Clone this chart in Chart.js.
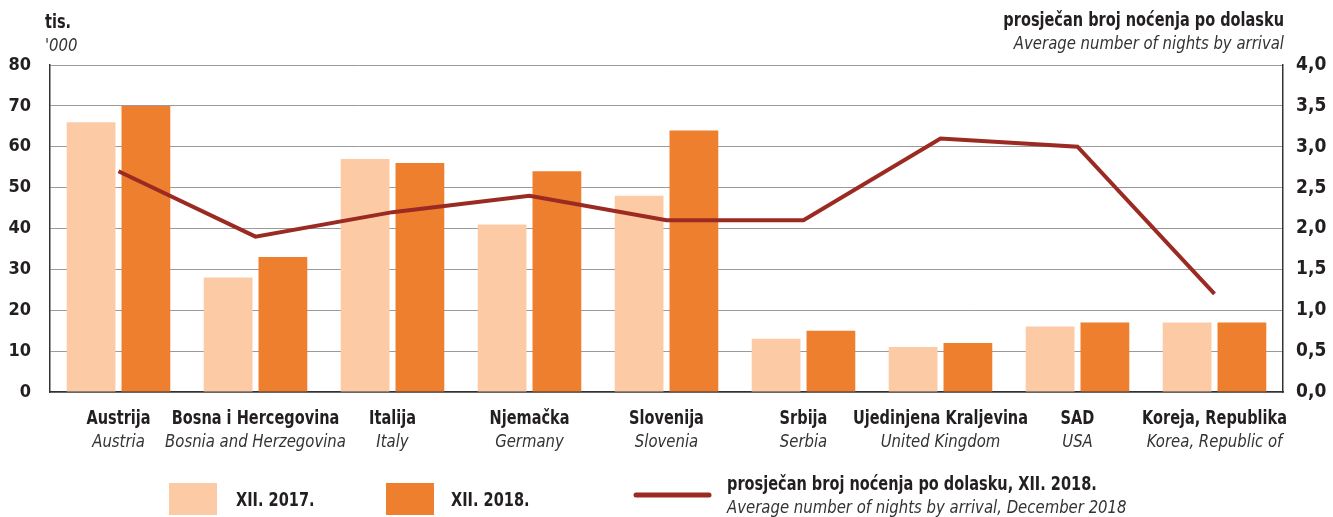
<!DOCTYPE html>
<html>
<head>
<meta charset="utf-8">
<script src="https://cdn.jsdelivr.net/npm/chart.js@4"></script>
<style>
  html, body { margin: 0; padding: 0; background: #fff; }
  #wrap { width: 1333px; height: 517px; position: relative; }
</style>
</head>
<body>
<div id="wrap"><canvas id="myChart" width="1333" height="517"></canvas></div>
<script>
const categoriesHr = ['Austrija', 'Bosna i Hercegovina', 'Italija', 'Njemačka', 'Slovenija', 'Srbija', 'Ujedinjena Kraljevina', 'SAD', 'Koreja, Republika'];
const categoriesEn = ['Austria', 'Bosnia and Herzegovina', 'Italy', 'Germany', 'Slovenia', 'Serbia', 'United Kingdom', 'USA', 'Korea, Republic of'];
const dec2017 = [66, 28, 57, 41, 48, 13, 11, 16, 17];
const dec2018 = [70, 33, 56, 54, 64, 15, 12, 17, 17];
const nightsPerArrival = [2.7, 1.9, 2.2, 2.4, 2.1, 2.1, 3.1, 3.0, 1.2];
const leftTicks = [0, 10, 20, 30, 40, 50, 60, 70, 80];
const rightTicks = ['0,0', '0,5', '1,0', '1,5', '2,0', '2,5', '3,0', '3,5', '4,0'];

const FONT = "'Liberation Sans Narrow', 'DejaVu Sans Condensed', sans-serif";
const LIGHT = '#fccba5';
const DARK = '#ee7f2f';
const LINE = '#9b2a22';
const TEXT = '#231f20';

// draw text squeezed horizontally, the original uses a condensed face
function txt(ctx, s, x, y, bold, align) {
    const sx = bold ? 0.85 : 0.92;
    ctx.save();
    ctx.font = bold ? "bold 19px " + FONT : "italic 18px " + FONT;
    ctx.fillStyle = bold ? TEXT : '#333';
    ctx.textAlign = align;
    ctx.textBaseline = 'alphabetic';
    ctx.translate(x, y);
    ctx.scale(sx, 1);
    ctx.fillText(s, 0, 0);
    ctx.restore();
}

const overlay = {
    id: 'overlay',
    afterDraw(chart) {
        const ctx = chart.ctx;
        const x = chart.scales.x;

        categoriesHr.forEach((lab, i) => {
            const px = x.getPixelForValue(i);
            txt(ctx, lab, px, 424, true, 'center');
            txt(ctx, categoriesEn[i], px, 447, false, 'center');
        });

        // axis titles
        txt(ctx, 'tis.', 45, 28, true, 'left');
        txt(ctx, "'000", 45, 51, false, 'left');
        txt(ctx, 'prosječan broj noćenja po dolasku', 1284, 26, true, 'right');
        txt(ctx, 'Average number of nights by arrival', 1284, 49, false, 'right');

        // legend
        const ds = chart.data.datasets;
        ctx.save();
        ctx.fillStyle = LIGHT;
        ctx.fillRect(169, 483, 48, 32);
        ctx.fillStyle = DARK;
        ctx.fillRect(386, 483, 48, 32);
        ctx.strokeStyle = LINE;
        ctx.lineWidth = 5;
        ctx.lineCap = 'round';
        ctx.beginPath();
        ctx.moveTo(636, 495);
        ctx.lineTo(709, 495);
        ctx.stroke();
        ctx.restore();
        txt(ctx, ds[1].label, 236, 506, true, 'left');
        txt(ctx, ds[2].label, 451, 506, true, 'left');
        txt(ctx, ds[0].label, 727, 490, true, 'left');
        txt(ctx, 'Average number of nights by arrival, December 2018', 727, 513, false, 'left');
    }
};

const ctx = document.getElementById('myChart').getContext('2d');
// eslint-disable-next-line no-undef
const chart = new Chart(ctx, {
    type: 'bar',
    data: {
        labels: categoriesHr,
        datasets: [{
            type: 'line',
            label: 'prosječan broj noćenja po dolasku, XII. 2018.',
            data: nightsPerArrival,
            yAxisID: 'y1',
            borderColor: LINE,
            borderWidth: 4,
            pointRadius: 0,
            tension: 0,
            order: 0
        }, {
            label: 'XII. 2017.',
            data: dec2017,
            backgroundColor: LIGHT,
            categoryPercentage: 0.8,
            barPercentage: 0.89,
            order: 1
        }, {
            label: 'XII. 2018.',
            data: dec2018,
            backgroundColor: DARK,
            categoryPercentage: 0.8,
            barPercentage: 0.89,
            order: 1
        }]
    },
    options: {
        responsive: false,
        animation: false,
        layout: { padding: { top: 65, left: 0, right: 0, bottom: 0 } },
        plugins: { legend: { display: false }, tooltip: { enabled: false } },
        scales: {
            x: {
                grid: { display: false },
                border: { display: true, color: '#333', width: 1.5 },
                ticks: { display: false },
                afterFit: s => { s.height = 125; }
            },
            y: {
                min: 0, max: 80,
                afterBuildTicks: s => { s.ticks = leftTicks.map(v => ({ value: v })); },
                grid: { color: '#9a9a9a', lineWidth: 1, drawTicks: false },
                border: { display: true, color: '#333', width: 1.5 },
                ticks: { color: TEXT, padding: 19, font: { family: FONT, size: 18, weight: 'bold' } },
                afterFit: s => { s.width = 50; }
            },
            y1: {
                position: 'right',
                min: 0, max: 4,
                afterBuildTicks: s => { s.ticks = rightTicks.map((t, i) => ({ value: i * 0.5 })); },
                grid: { display: false, drawTicks: false },
                border: { display: true, color: '#333', width: 1.5 },
                ticks: {
                    color: TEXT, padding: 13, font: { family: FONT, size: 19, weight: 'bold' },
                    callback: (v, i) => rightTicks[i]
                },
                afterFit: s => { s.width = 50; }
            }
        }
    },
    plugins: [overlay]
});
</script>
</body>
</html>
